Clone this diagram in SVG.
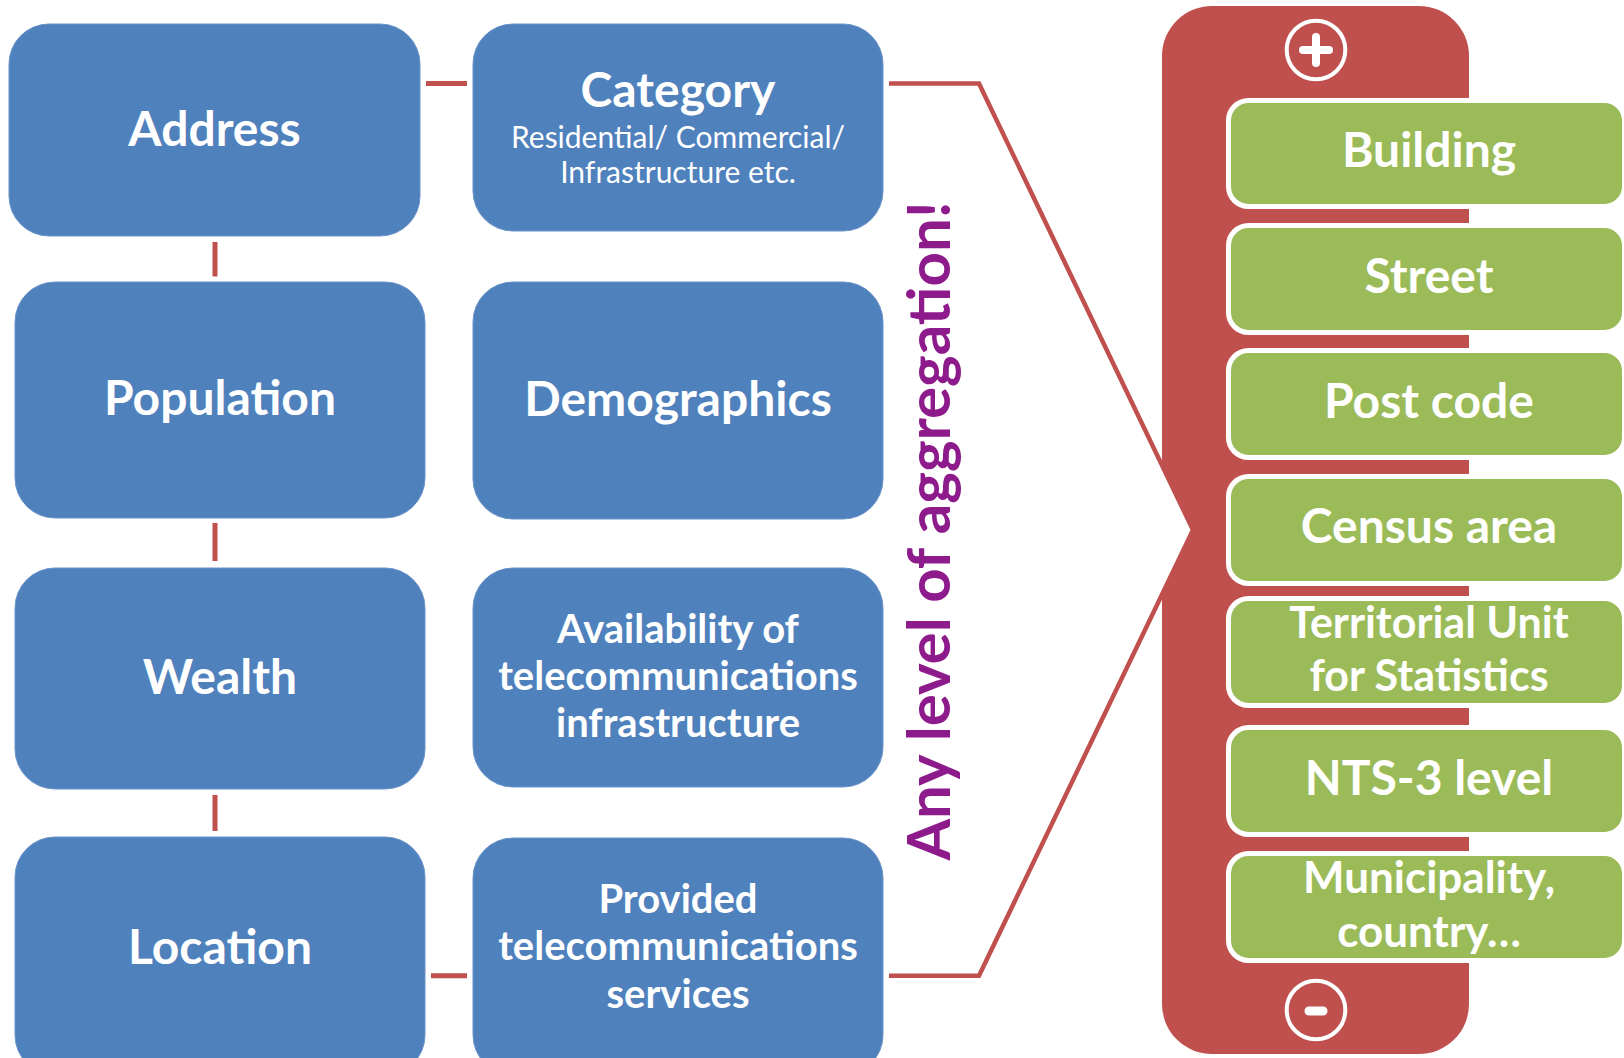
<svg xmlns="http://www.w3.org/2000/svg" width="1624" height="1058" viewBox="0 0 1624 1058">
<style>
.blue{fill:#4F81BD;stroke:#6A93C8;stroke-width:1}
.green{fill:#9BBB59;stroke:#FFFFFF;stroke-width:5}
.t{font-family:Lato,"Liberation Sans",sans-serif;font-weight:bold;fill:#FFFFFF;text-anchor:middle}
.sub{font-family:Lato,"Liberation Sans",sans-serif;font-weight:normal;fill:#FFFFFF;text-anchor:middle;font-size:30px}
.conn{stroke:#C0504D;stroke-width:5;fill:none}
</style>
<rect width="1624" height="1058" fill="#FFFFFF"/>
<g id="scale-bar">
<rect x="1162" y="6" width="307" height="1048" rx="50" ry="50" fill="#C0504D"/>
</g>
<g id="connectors">
<line class="conn" x1="426" y1="83.5" x2="467" y2="83.5"/>
<line class="conn" x1="215" y1="242" x2="215" y2="276.5"/>
<line class="conn" x1="215" y1="523" x2="215" y2="561"/>
<line class="conn" x1="215" y1="795" x2="215" y2="831"/>
<line class="conn" x1="431" y1="975.7" x2="467" y2="975.7"/>
<path d="M889,83.5 H979 L1193,530 L979,975.7 H889" fill="#FFFFFF" stroke="#C0504D" stroke-width="4.5" stroke-linejoin="miter"/>
</g>
<g id="address"><rect class="blue" x="9" y="24" width="411" height="212" rx="40"/><text class="t" x="214.5" y="146" font-size="48">Address</text></g>
<g id="category"><rect class="blue" x="473" y="24" width="410" height="207" rx="40"/><text class="t" x="678" y="107" font-size="48">Category</text><text class="sub" x="678" y="148">Residential/ Commercial/</text><text class="sub" x="678" y="183">Infrastructure etc.</text></g>
<g id="population"><rect class="blue" x="15" y="282" width="410" height="236" rx="40"/><text class="t" x="220" y="415" font-size="48">Population</text></g>
<g id="demographics"><rect class="blue" x="473" y="282" width="410" height="237" rx="40"/><text class="t" x="678" y="416" font-size="48">Demographics</text></g>
<g id="wealth"><rect class="blue" x="15" y="568" width="410" height="221" rx="40"/><text class="t" x="220" y="694" font-size="48">Wealth</text></g>
<g id="availability"><rect class="blue" x="473" y="568" width="410" height="219" rx="40"/><text class="t" x="678" y="643" font-size="40">Availability of</text><text class="t" x="678" y="690" font-size="40">telecommunications</text><text class="t" x="678" y="737" font-size="40">infrastructure</text></g>
<g id="location"><rect class="blue" x="15" y="837" width="410" height="238" rx="40"/><text class="t" x="220" y="964" font-size="48">Location</text></g>
<g id="provided"><rect class="blue" x="473" y="838" width="410" height="237" rx="40"/><text class="t" x="678" y="913" font-size="40">Provided</text><text class="t" x="678" y="960" font-size="40">telecommunications</text><text class="t" x="678" y="1007.5" font-size="40">services</text></g>
<g id="aggregation-label"><text transform="translate(950,531) rotate(-90)" x="0" y="0" font-family="Lato, 'Liberation Sans', sans-serif" font-weight="bold" font-size="60" fill="#8E1B8C" text-anchor="middle">Any level of aggregation!</text></g>
<g id="plus"><circle cx="1316" cy="50" r="29.3" fill="none" stroke="#FFFFFF" stroke-width="4"/><path d="M1303,50 H1329 M1316,37 V63" stroke="#FFFFFF" stroke-width="8" stroke-linecap="round"/></g>
<g id="building"><rect class="green" x="1228.5" y="100.5" width="396" height="106" rx="20"/><text class="t" x="1429" y="166.7" font-size="48">Building</text></g>
<g id="street"><rect class="green" x="1228.5" y="225.5" width="396" height="107" rx="20"/><text class="t" x="1429" y="293" font-size="48">Street</text></g>
<g id="post-code"><rect class="green" x="1228.5" y="350.5" width="396" height="107" rx="20"/><text class="t" x="1429" y="418" font-size="48">Post code</text></g>
<g id="census-area"><rect class="green" x="1228.5" y="476.5" width="396" height="107" rx="20"/><text class="t" x="1429" y="543" font-size="48">Census area</text></g>
<g id="territorial-unit"><rect class="green" x="1228.5" y="598.5" width="396" height="107" rx="20"/><text class="t" x="1429" y="638" font-size="43">Territorial Unit</text><text class="t" x="1429" y="691" font-size="43">for Statistics</text></g>
<g id="nts-3"><rect class="green" x="1228.5" y="727.5" width="396" height="107" rx="20"/><text class="t" x="1429" y="795" font-size="48">NTS-3 level</text></g>
<g id="municipality"><rect class="green" x="1228.5" y="853.5" width="396" height="107" rx="20"/><text class="t" x="1429" y="893" font-size="44">Municipality,</text><text class="t" x="1429" y="947" font-size="44">country…</text></g>
<g id="minus"><circle cx="1316" cy="1010" r="29.3" fill="none" stroke="#FFFFFF" stroke-width="4"/><line x1="1309" y1="1011" x2="1323" y2="1011" stroke="#FFFFFF" stroke-width="9" stroke-linecap="round"/></g>
</svg>
